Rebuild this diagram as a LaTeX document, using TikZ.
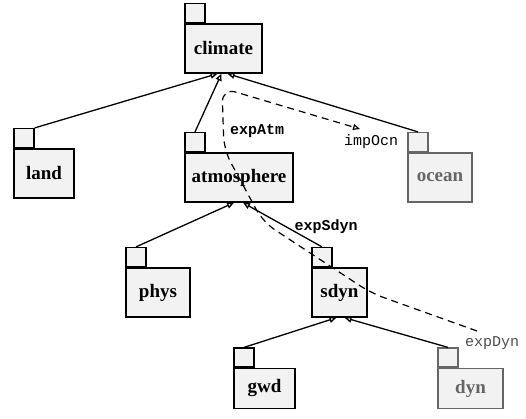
\documentclass[tikz,border=0pt]{standalone}
\usepackage{fontspec}
\setmainfont{Liberation Serif}
\setmonofont{Liberation Mono}
\usetikzlibrary{arrows.meta,positioning}

\begin{document}
\begin{tikzpicture}[
    x=1pt, y=-1pt,
    pkg/.style={rectangle, draw, line width=1.4pt, fill=black!5, minimum height=49pt, inner sep=1pt, font=\fontsize{19}{22}\selectfont\bfseries},
    tab/.style={rectangle, draw, line width=1.4pt, fill=black!5, minimum width=20pt, minimum height=19pt, inner sep=0pt},
    faint/.style={draw=black!60, text=black!60},
    uses/.style={line width=1.3pt, -{Triangle[open, length=7pt, width=6pt]}},
    couple/.style={line width=1.2pt, dash pattern=on 7pt off 5pt, rounded corners=14pt, -{Triangle[open, length=7pt, width=6pt]}},
    port/.style={font=\fontsize{15}{17}\selectfont\ttfamily}
  ]
  \useasboundingbox (0,0) rectangle (526,419);

  % packages
  \node[pkg, minimum width=77pt] (climate) at (223.5,48.5) {climate};
  \node[pkg, minimum width=60pt] (land) at (44,173.5) {land};
  \node[pkg, minimum width=108pt] (atmosphere) at (239,177.5) {atmosphere};
  \node[pkg, faint, minimum width=64pt] (ocean) at (440,177.5) {ocean};
  \node[pkg, minimum width=64pt] (phys) at (158,292.5) {phys};
  \node[pkg, minimum width=55pt] (sdyn) at (339.5,292.5) {sdyn};
  \node[pkg, minimum width=61pt, minimum height=40pt] (gwd) at (264.5,388.5) {gwd};
  \node[pkg, faint, minimum width=65pt, minimum height=40pt] (dyn) at (470.5,388.5) {dyn};

  % folder tabs
  \foreach \p in {climate,land,atmosphere,phys,sdyn,gwd}
    \node[tab, above right=0pt and 0pt of \p.north west, anchor=south west] (\p-tab) {};
  \foreach \p in {ocean,dyn}
    \node[tab, faint, above right=0pt and 0pt of \p.north west, anchor=south west] (\p-tab) {};

  % hierarchy
  \draw[uses] (land-tab.north east) -- ([xshift=-6pt]climate.south);
  \draw[uses] (atmosphere-tab.north) -- ([xshift=-2pt]climate.south);
  \draw[uses] (ocean-tab.north) -- ([xshift=4pt]climate.south);
  \draw[uses] (phys-tab.north) -- ([xshift=-5pt]atmosphere.south);
  \draw[uses] (sdyn-tab.north) -- ([xshift=4pt]atmosphere.south);
  \draw[uses] (gwd-tab.north) -- ([xshift=-3pt]sdyn.south);
  \draw[uses] (dyn-tab.north) -- ([xshift=5pt]sdyn.south);

  % coupling
  \coordinate (dynout) at (477,331);
  \coordinate (ocnin) at (360,129);
  \draw[couple] (dynout) -- (371,293) -- (263,222) -- (224,150) -- (222,88) -- (ocnin);

  \node[port, font=\fontsize{15}{17}\selectfont\ttfamily\bfseries] (expAtm) at (257,131) {expAtm};
  \node[port] (impOcn) at (371,142) {impOcn};
  \node[port, font=\fontsize{15}{17}\selectfont\ttfamily\bfseries] (expSdyn) at (326,227) {expSdyn};
  \node[port, text=black!70] (expDyn) at (492,343) {expDyn};
\end{tikzpicture}
\end{document}
